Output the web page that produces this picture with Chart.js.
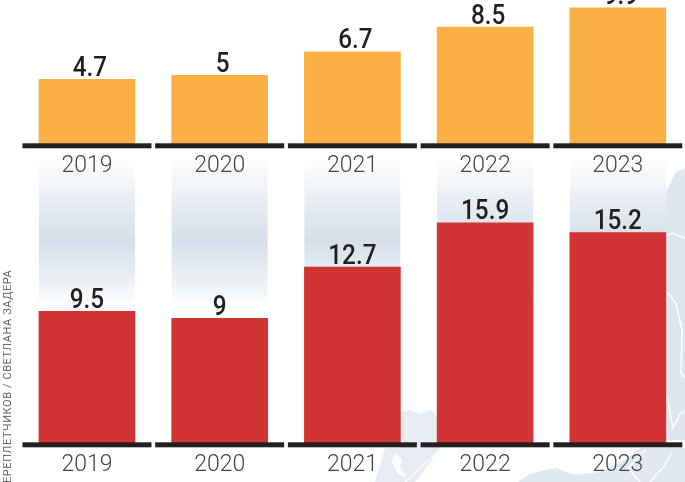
<!DOCTYPE html>
<html>
<head>
<meta charset="utf-8">
<title>2019-2023</title>
<script src="https://cdn.jsdelivr.net/npm/chart.js"></script>
<style>
    html, body { margin: 0; padding: 0; background: #fff; overflow: hidden; }
    #page { position: relative; width: 685px; height: 482px; overflow: hidden; }
    #map { position: absolute; left: 0; top: 0; z-index: 0; }
    #bottomChart { position: absolute; left: 0; top: 150px; z-index: 1; }
    #topChart { position: absolute; left: 0; top: 0; z-index: 2; }
    #credit {
        position: absolute; z-index: 3; left: 2px; top: 482px;
        transform-origin: 0 0; transform: rotate(-90deg) translateX(-1px);
        font: 11px Roboto, sans-serif; letter-spacing: 0.58px; line-height: 12px;
        color: #666; white-space: nowrap;
    }
</style>
</head>
<body>
<div id="page">
    <!-- светлая карта на фоне -->
    <svg id="map" width="685" height="482">
        <path fill="#dfe6ef" d="M685 168 L676 172 L668 188 L662 205 L655 215 L640 300 L640 440 L685 440 Z"/>
        <path fill="#e8edf4" d="M400 412 L411 410 L420 414 L431 410 L440 420 L440 448 L400 448 Z"/>
        <path fill="#e8edf4" d="M385 448 L440 448 L432 460 L415 482 L375 482 Z"/>
        <path fill="#e2e8f0" d="M518 482 L530 474 L545 470 L556 468 L575 475 L600 472 L625 460 L640 448 L685 448 L685 482 Z"/>
        <g fill="none" stroke="#fff" stroke-width="1.5">
            <path d="M666 236 L672 233 L685 238"/>
            <path d="M666 292 L670 295 L676 304 L682 330 L681 373 L685 378"/>
            <path d="M667 395 L670 413 L673 428 L680 414 L685 411"/>
            <path d="M440 450 L418 470 L405 482"/>
            <path d="M640 482 L628 468 L646 450"/>
            <path d="M650 482 L664 466 L672 452"/>
        </g>
        <path fill="#fff" d="M395 452 L402 460 L400 466 L407 478 L398 474 L392 462 Z"/>
    </svg>
    <canvas id="bottomChart" width="685" height="332"></canvas>
    <canvas id="topChart" width="685" height="176"></canvas>
    <div id="credit">ЕРЕПЛЕТЧИКОВ / СВЕТЛАНА ЗАДЕРА</div>
</div>

<script>
    const years = ['2019', '2020', '2021', '2022', '2023'];
    const topValues = [4.7, 5, 6.7, 8.5, 9.9];
    const bottomValues = [9.5, 9, 12.7, 15.9, 15.2];

    // подписи значений над столбцами
    const valueLabels = {
        id: 'valueLabels',
        afterDatasetsDraw(chart, args, opts) {
            const ctx = chart.ctx;
            chart.getDatasetMeta(0).data.forEach((bar, i) => {
                ctx.save();
                ctx.translate(bar.x + opts.dx, bar.y - 3.5);
                ctx.scale(0.9, 1); // шрифт на оригинале уже
                ctx.font = '500 27px Roboto';
                ctx.fillStyle = '#231f20';
                ctx.textAlign = 'center';
                ctx.textBaseline = 'alphabetic';
                ctx.fillText(String(chart.data.datasets[0].data[i]), 0, 0);
                ctx.restore();
            });
        }
    };

    // чёрная линия под каждым столбцом
    const baseLines = {
        id: 'baseLines',
        afterDatasetsDraw(chart) {
            const ctx = chart.ctx;
            const base = chart.scales.y.getPixelForValue(0);
            ctx.save();
            ctx.fillStyle = '#231f20';
            chart.getDatasetMeta(0).data.forEach(bar => {
                ctx.fillRect(bar.x - 64.5, base - 0.7, 129, 5);
            });
            ctx.restore();
        }
    };

    // градиентные полосы за красными столбцами
    const panels = {
        id: 'panels',
        beforeDatasetsDraw(chart, args, opts) {
            if (!opts.enabled) return;
            const ctx = chart.ctx;
            const base = chart.scales.y.getPixelForValue(0);
            const top = chart.chartArea.top + 4;
            const grad = ctx.createLinearGradient(0, top, 0, 162);
            grad.addColorStop(0, '#ffffff');
            grad.addColorStop(0.55, '#d5dfe9');
            grad.addColorStop(1, '#ffffff');
            ctx.save();
            ctx.fillStyle = grad;
            chart.getDatasetMeta(0).data.forEach(bar => {
                ctx.fillRect(bar.x - 48, top, 96, base - top);
            });
            ctx.restore();
        }
    };

    function makeChart(id, values, color, yMax, axisHeight, labelDx, tickPad, withPanels) {
        return new Chart(document.getElementById(id).getContext('2d'), {
            type: 'bar',
            data: {
                labels: years,
                datasets: [{ data: values, backgroundColor: color, barThickness: 96, borderWidth: 0 }]
            },
            options: {
                responsive: false,
                animation: false,
                layout: { padding: { left: 20.6, right: 0.8, top: 0, bottom: 0 } },
                plugins: {
                    legend: { display: false },
                    tooltip: { enabled: false },
                    valueLabels: { dx: labelDx },
                    panels: { enabled: withPanels }
                },
                scales: {
                    x: {
                        afterFit: s => { s.height = axisHeight; },
                        grid: { display: false },
                        border: { display: false },
                        ticks: { color: '#444', padding: tickPad, maxRotation: 0, font: { family: 'Roboto', size: 23, weight: '300' } }
                    },
                    y: { display: false, min: 0, max: yMax }
                }
            },
            plugins: [panels, valueLabels, baseLines]
        });
    }

    makeChart('topChart', topValues, '#fbb045', 144 / 13.75, 32, 3, 0, false);
    makeChart('bottomChart', bottomValues, '#d13533', 293 / 13.85, 39, 0, 0, true);
</script>
</body>
</html>
